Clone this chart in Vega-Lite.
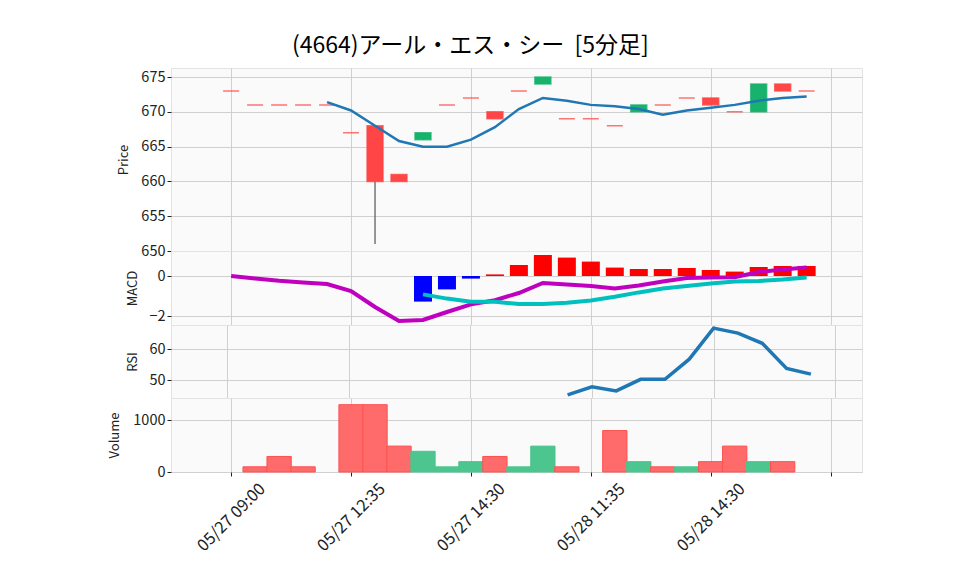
{
  "$schema": "https://vega.github.io/schema/vega-lite/v6.json",
  "background": "white",
  "bounds": "flush",
  "padding": {"left": 108, "top": 34, "right": 40, "bottom": 10},
  "title": {"text": "(4664)アール・エス・シー\u00a0 [5分足]", "fontSize": 23, "font": "Noto Sans CJK JP", "fontWeight": "normal", "color": "#000", "anchor": "middle", "offset": 10, "dx": -15},
  "datasets": {
    "bars": [
      {"i": 0, "open": 673, "high": 673, "low": 673, "close": 673, "ma": null, "macd": 0.0, "signal": null, "hist": null, "rsi": null, "volume": 0, "vdir": "down"},
      {"i": 1, "open": 671, "high": 671, "low": 671, "close": 671, "ma": null, "macd": -0.12, "signal": null, "hist": null, "rsi": null, "volume": 100, "vdir": "down"},
      {"i": 2, "open": 671, "high": 671, "low": 671, "close": 671, "ma": null, "macd": -0.24, "signal": null, "hist": null, "rsi": null, "volume": 300, "vdir": "down"},
      {"i": 3, "open": 671, "high": 671, "low": 671, "close": 671, "ma": null, "macd": -0.33, "signal": null, "hist": null, "rsi": null, "volume": 100, "vdir": "down"},
      {"i": 4, "open": 671, "high": 671, "low": 671, "close": 671, "ma": 671.4, "macd": -0.40, "signal": null, "hist": null, "rsi": null, "volume": 0, "vdir": "down"},
      {"i": 5, "open": 667, "high": 667, "low": 667, "close": 667, "ma": 670.2, "macd": -0.75, "signal": null, "hist": null, "rsi": null, "volume": 1300, "vdir": "down"},
      {"i": 6, "open": 668, "high": 668, "low": 651, "close": 660, "ma": 668.0, "macd": -1.55, "signal": null, "hist": null, "rsi": null, "volume": 1300, "vdir": "down"},
      {"i": 7, "open": 661, "high": 661, "low": 660, "close": 660, "ma": 665.8, "macd": -2.25, "signal": null, "hist": null, "rsi": null, "volume": 500, "vdir": "down"},
      {"i": 8, "open": 666, "high": 667, "low": 666, "close": 667, "ma": 665.0, "macd": -2.20, "signal": -0.92, "hist": -1.28, "rsi": null, "volume": 400, "vdir": "up"},
      {"i": 9, "open": 671, "high": 671, "low": 671, "close": 671, "ma": 665.0, "macd": -1.80, "signal": -1.13, "hist": -0.67, "rsi": null, "volume": 100, "vdir": "up"},
      {"i": 10, "open": 672, "high": 672, "low": 672, "close": 672, "ma": 666.0, "macd": -1.42, "signal": -1.29, "hist": -0.13, "rsi": null, "volume": 200, "vdir": "up"},
      {"i": 11, "open": 670, "high": 670, "low": 669, "close": 669, "ma": 667.8, "macd": -1.21, "signal": -1.29, "hist": 0.08, "rsi": null, "volume": 300, "vdir": "down"},
      {"i": 12, "open": 673, "high": 673, "low": 673, "close": 673, "ma": 670.4, "macd": -0.85, "signal": -1.40, "hist": 0.55, "rsi": null, "volume": 100, "vdir": "up"},
      {"i": 13, "open": 674, "high": 675, "low": 674, "close": 675, "ma": 672.0, "macd": -0.35, "signal": -1.40, "hist": 1.05, "rsi": null, "volume": 500, "vdir": "up"},
      {"i": 14, "open": 669, "high": 669, "low": 669, "close": 669, "ma": 671.6, "macd": -0.42, "signal": -1.34, "hist": 0.92, "rsi": 45.3, "volume": 100, "vdir": "down"},
      {"i": 15, "open": 669, "high": 669, "low": 669, "close": 669, "ma": 671.0, "macd": -0.50, "signal": -1.22, "hist": 0.72, "rsi": 47.9, "volume": 0, "vdir": "down"},
      {"i": 16, "open": 668, "high": 668, "low": 668, "close": 668, "ma": 670.8, "macd": -0.62, "signal": -1.04, "hist": 0.42, "rsi": 46.6, "volume": 800, "vdir": "down"},
      {"i": 17, "open": 670, "high": 671, "low": 670, "close": 671, "ma": 670.4, "macd": -0.47, "signal": -0.82, "hist": 0.35, "rsi": 50.3, "volume": 200, "vdir": "up"},
      {"i": 18, "open": 671, "high": 671, "low": 671, "close": 671, "ma": 669.6, "macd": -0.28, "signal": -0.63, "hist": 0.35, "rsi": 50.3, "volume": 100, "vdir": "down"},
      {"i": 19, "open": 672, "high": 672, "low": 672, "close": 672, "ma": 670.2, "macd": -0.10, "signal": -0.50, "hist": 0.40, "rsi": 56.8, "volume": 100, "vdir": "up"},
      {"i": 20, "open": 672, "high": 672, "low": 671, "close": 671, "ma": 670.6, "macd": -0.07, "signal": -0.37, "hist": 0.30, "rsi": 66.8, "volume": 200, "vdir": "down"},
      {"i": 21, "open": 670, "high": 670, "low": 670, "close": 670, "ma": 671.0, "macd": -0.06, "signal": -0.28, "hist": 0.22, "rsi": 65.2, "volume": 500, "vdir": "down"},
      {"i": 22, "open": 670, "high": 674, "low": 670, "close": 674, "ma": 671.6, "macd": 0.20, "signal": -0.25, "hist": 0.45, "rsi": 61.9, "volume": 200, "vdir": "up"},
      {"i": 23, "open": 674, "high": 674, "low": 673, "close": 673, "ma": 672.0, "macd": 0.32, "signal": -0.18, "hist": 0.50, "rsi": 53.8, "volume": 200, "vdir": "down"},
      {"i": 24, "open": 673, "high": 673, "low": 673, "close": 673, "ma": 672.2, "macd": 0.42, "signal": -0.08, "hist": 0.50, "rsi": 52.0, "volume": 0, "vdir": "down"}
    ]
  },
  "spacing": 0,
  "vconcat": [
    {
      "width": 691, "height": 183,
      "data": {"name": "bars"},
      "encoding": {
        "x": {"field": "i", "type": "quantitative", "scale": {"domain": [-2.3, 26.1], "nice": false, "zero": false},
              "axis": {"values": [0, 5, 10, 15, 20, 25], "labels": false, "ticks": false, "title": null, "grid": true}}
      },
      "layer": [
        {"mark": {"type": "rule", "color": "#555555", "strokeWidth": 1.2},
         "encoding": {"y": {"field": "low", "type": "quantitative", "scale": {"domain": [650, 676.3], "nice": false, "zero": false},
                            "axis": {"values": [650, 655, 660, 665, 670, 675], "title": "Price", "titlePadding": 10}},
                      "y2": {"field": "high"}}},
        {"mark": {"type": "bar", "width": 16, "strokeWidth": 1.5, "strokeOpacity": 0.75},
         "encoding": {"y": {"field": "open", "type": "quantitative", "axis": {"values": [650, 655, 660, 665, 670, 675], "title": "Price", "titlePadding": 10}}, "y2": {"field": "close"},
                      "fill": {"condition": {"test": "datum.close > datum.open", "value": "#17b26c"}, "value": "#ff4545"},
                      "stroke": {"condition": {"test": "datum.close > datum.open", "value": "#17b26c"}, "value": "#ff4545"}}},
        {"mark": {"type": "line", "color": "#1f77b4", "strokeWidth": 2.5},
         "encoding": {"y": {"field": "ma", "type": "quantitative", "axis": {"values": [650, 655, 660, 665, 670, 675], "title": "Price", "titlePadding": 10}}}}
      ]
    },
    {
      "width": 691, "height": 74,
      "data": {"name": "bars"},
      "encoding": {
        "x": {"field": "i", "type": "quantitative", "scale": {"domain": [-2.3, 26.1], "nice": false, "zero": false},
              "axis": {"values": [0, 5, 10, 15, 20, 25], "labels": false, "ticks": false, "title": null, "grid": true}}
      },
      "layer": [
        {"mark": {"type": "bar", "width": 18},
         "encoding": {"y": {"field": "hist", "type": "quantitative", "scale": {"domain": [-2.45, 1.25], "nice": false, "zero": false},
                            "axis": {"values": [-2, 0], "title": "MACD", "titlePadding": 9}},
                      "y2": {"datum": 0},
                      "color": {"condition": {"test": "datum.hist < 0", "value": "#0000ff"}, "value": "#ff0000"}}},
        {"mark": {"type": "line", "color": "#bf00bf", "strokeWidth": 4},
         "encoding": {"y": {"field": "macd", "type": "quantitative", "axis": {"values": [-2, 0], "title": "MACD", "titlePadding": 9}}}},
        {"mark": {"type": "line", "color": "#00bfbf", "strokeWidth": 4},
         "encoding": {"y": {"field": "signal", "type": "quantitative", "axis": {"values": [-2, 0], "title": "MACD", "titlePadding": 9}}}}
      ]
    },
    {
      "width": 691, "height": 73,
      "data": {"name": "bars"},
      "mark": {"type": "line", "color": "#1f77b4", "strokeWidth": 3.5},
      "encoding": {
        "x": {"field": "i", "type": "quantitative", "scale": {"domain": [-2.3, 26.1], "nice": false, "zero": false},
              "axis": {"values": [0, 5, 10, 15, 20, 25], "labels": false, "ticks": false, "title": null, "grid": true}},
        "y": {"field": "rsi", "type": "quantitative", "scale": {"domain": [44.3, 67.8], "nice": false, "zero": false},
              "axis": {"values": [50, 60], "title": "RSI", "titlePadding": 9}}
      }
    },
    {
      "width": 691, "height": 74,
      "data": {"name": "bars"},
      "transform": [{"filter": "datum.volume > 0"}],
      "mark": {"type": "bar", "width": 24.3, "strokeWidth": 1},
      "encoding": {
        "x": {"field": "i", "type": "quantitative", "scale": {"domain": [-2.3, 26.1], "nice": false, "zero": false},
              "axis": {"values": [0, 5, 10, 15, 20, 25], "title": null, "grid": true, "labelAngle": -45, "labelAlign": "center", "labelBaseline": "middle", "labelPadding": 41, "labelFontSize": 16.5,
                       "labelExpr": "datum.value == 0 ? '05/27 09:00' : datum.value == 5 ? '05/27 12:35' : datum.value == 10 ? '05/27 14:30' : datum.value == 15 ? '05/28 11:35' : datum.value == 20 ? '05/28 14:30' : ''"}},
        "y": {"field": "volume", "type": "quantitative", "scale": {"domain": [0, 1429], "nice": false, "zero": false},
              "axis": {"values": [0, 1000], "format": "d", "title": "Volume", "titlePadding": 11}},
        "y2": {"datum": 0},
        "fill": {"field": "vdir", "type": "nominal", "scale": {"domain": ["up", "down"], "range": ["#4cc58f", "#ff6b6b"]}, "legend": null},
        "stroke": {"field": "vdir", "type": "nominal", "scale": {"domain": ["up", "down"], "range": ["#4cc58f", "#ff5050"]}, "legend": null}
      }
    }
  ],
  "config": {
    "font": "Noto Sans CJK JP",
    "view": {"stroke": "#e3e3e3", "fill": "#fafafa"},
    "axis": {"labelFont": "Noto Sans CJK JP", "labelFontSize": 14.5, "labelColor": "#222222", "tickColor": "#222222", "tickSize": 4, "labelOverlap": false,
             "gridColor": "#d0d0d0", "gridWidth": 1, "domain": false, "titleFont": "Noto Sans CJK JP", "titleFontSize": 13, "titleFontWeight": "normal", "titleColor": "#222222"}
  }
}
